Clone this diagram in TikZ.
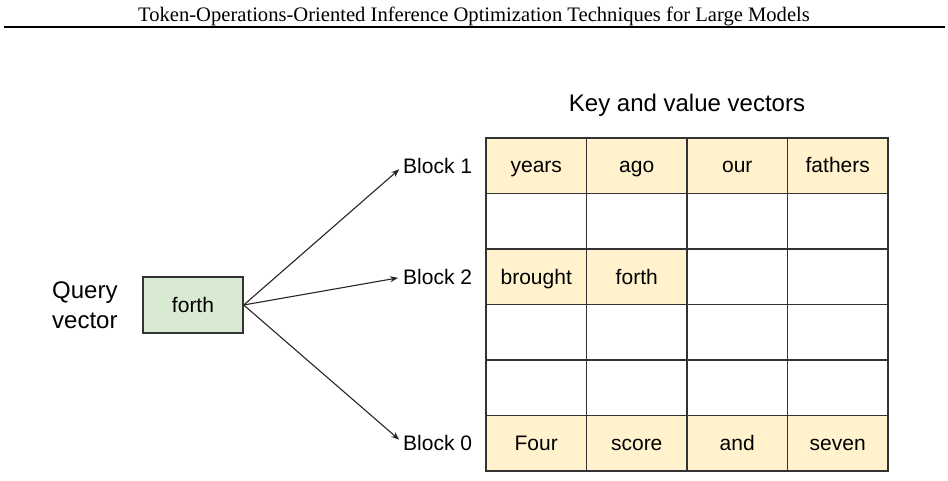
\documentclass[tikz,border=0pt]{standalone}
\usepackage{fontspec}
\setmainfont{Liberation Serif}
\newfontfamily\arialf{Liberation Sans}
\usetikzlibrary{arrows.meta}
\definecolor{kvyellow}{HTML}{FFF2CC}
\definecolor{qgreen}{HTML}{D9EAD3}
\definecolor{edgegray}{HTML}{333333}
\begin{document}
\begin{tikzpicture}[x=1pt,y=-1pt,
  cell/.style={draw=edgegray, line width=1.4pt, minimum width=100.5pt, minimum height=55.5pt, inner sep=0pt, text height=19pt, text depth=4.5pt, font=\arialf\fontsize{21}{25}\selectfont},
  blocklabel/.style={anchor=west, inner sep=0pt, font=\arialf\fontsize{21}{25}\selectfont},
  conn/.style={draw=black!85, line width=1.1pt, -{Stealth[length=8pt,width=6pt]}, shorten >=5pt}]
\useasboundingbox (0,0) rectangle (948,481);
% header
\node (hdr) at (474,16.5) {\fontsize{20.6}{24}\selectfont Token-Operations-Oriented Inference Optimization Techniques for Large Models};
\coordinate (rl) at (4,27);
\coordinate (rr) at (945,27);
\draw[line width=1.2pt] (rl) -- (rr);
% title
\node[inner sep=0pt, font=\arialf\fontsize{24}{28}\selectfont] (title) at (687,105) {Key and value vectors};
% table
\foreach \r/\fill/\a/\b/\c/\d in {1/kvyellow/years/ago/our/fathers, 2/white////, 3/white/brought/forth//, 4/white////, 5/white////, 6/kvyellow/Four/score/and/seven}{
  \foreach \cc/\txt in {1/\a,2/\b,3/\c,4/\d}{
    \pgfmathsetmacro{\cx}{486+100.5*(\cc-0.5)}
    \pgfmathsetmacro{\cy}{138+55.5*(\r-0.5)}
    \node[cell, fill=\fill] (c\r\cc) at (\cx,\cy) {\txt};
  }
}
\node[cell, fill=kvyellow] (c31y) at (c31) {brought};
\node[cell, fill=kvyellow] (c32y) at (c32) {forth};
% query
\node[draw=edgegray, line width=1.4pt, fill=qgreen, minimum width=100pt, minimum height=56pt, inner sep=0pt, text height=19pt, text depth=4.5pt, font=\arialf\fontsize{21}{25}\selectfont] (q) at (193,305) {forth};
\node[anchor=west, align=left, inner sep=0pt, font=\arialf\fontsize{24}{30}\selectfont] (qv) at (52,305) {Query\\vector};
% block labels
\node[blocklabel] (b1) at (403,166) {Block 1};
\node[blocklabel] (b2) at (403,277) {Block 2};
\node[blocklabel] (b0) at (403,443) {Block 0};
\draw[conn] (q.east) -- (b1.west);
\draw[conn] (q.east) -- (b2.west);
\draw[conn] (q.east) -- (b0.west);
\end{tikzpicture}
\end{document}
